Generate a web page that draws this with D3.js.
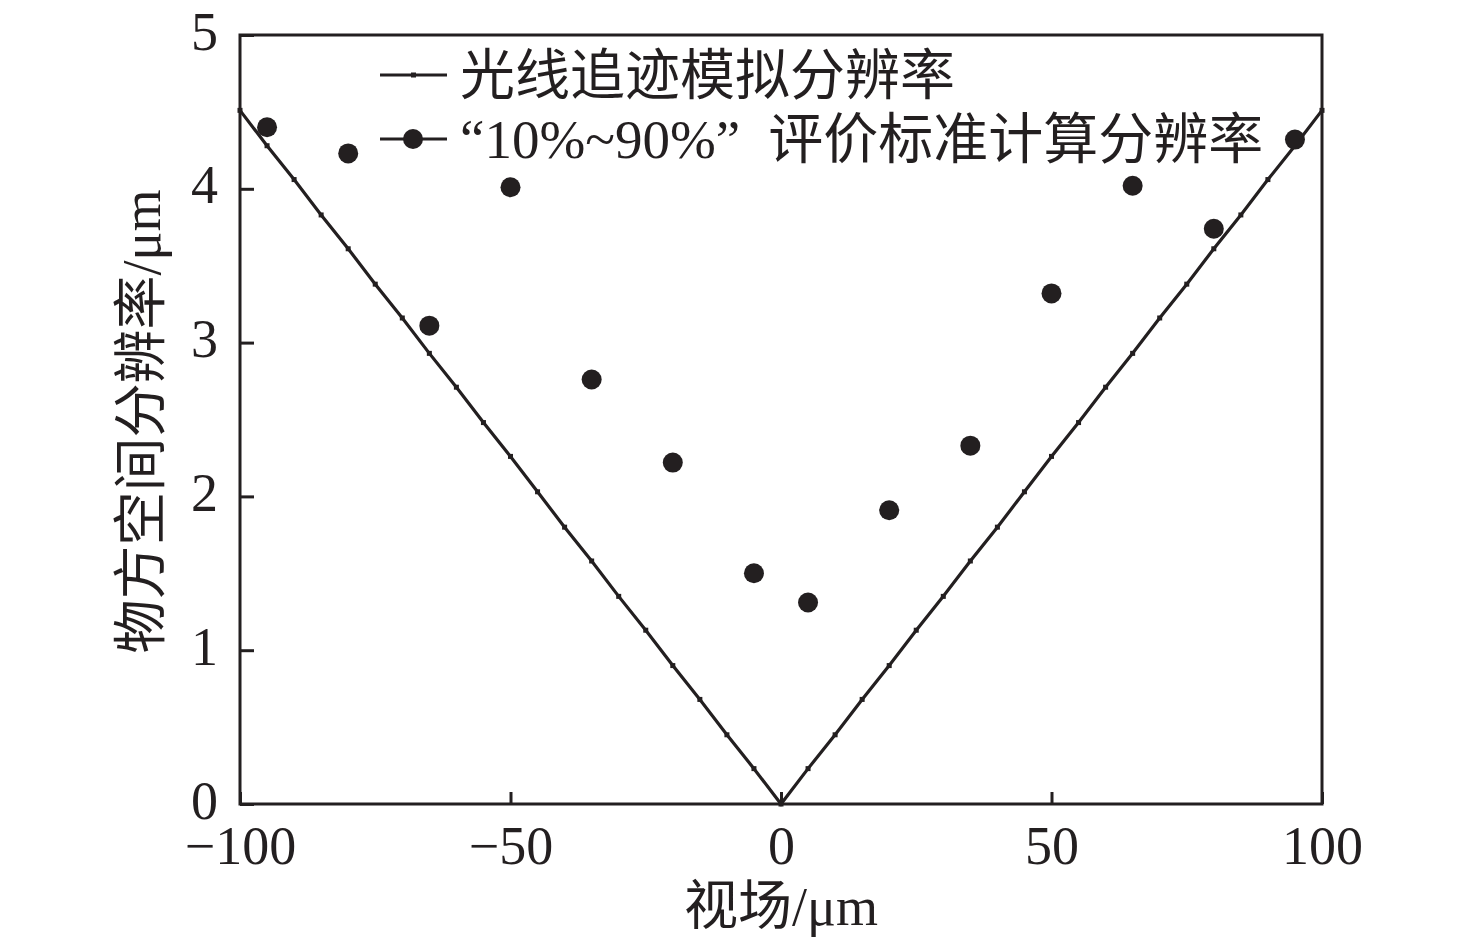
<!DOCTYPE html>
<html>
<head>
<meta charset="utf-8">
<script src="https://cdn.jsdelivr.net/npm/d3@7"></script>
<style>
  body { margin: 0; background: #fff; }
  text { fill: #231f20; }
</style>
</head>
<body>
<div id="chart"></div>
<script>
// ray tracing curve, every 5 um
var rayX = [-100, -95, -90, -85, -80, -75, -70, -65, -60, -55, -50, -45, -40, -35, -30, -25, -20, -15, -10, -5,
            0, 5, 10, 15, 20, 25, 30, 35, 40, 45, 50, 55, 60, 65, 70, 75, 80, 85, 90, 95, 100];
var rayY = [4.51, 4.28, 4.06, 3.83, 3.61, 3.38, 3.16, 2.93, 2.71, 2.48, 2.26, 2.03, 1.80, 1.58, 1.35, 1.13, 0.90, 0.68, 0.45, 0.23,
            0, 0.23, 0.45, 0.68, 0.90, 1.13, 1.35, 1.58, 1.80, 2.03, 2.26, 2.48, 2.71, 2.93, 3.16, 3.38, 3.61, 3.83, 4.06, 4.28, 4.51];

// "10%~90%" criterion points
var ptX = [-95, -80, -65, -50, -35, -20, -5, 5, 20, 35, 50, 65, 80, 95];
var ptY = [4.40, 4.23, 3.11, 4.01, 2.76, 2.22, 1.50, 1.31, 1.91, 2.33, 3.32, 4.02, 3.74, 4.32];

var xTicks = [-100, -50, 0, 50, 100];
var yTicks = [0, 1, 2, 3, 4, 5];
var legendNames = ["光线追迹模拟分辨率", "“10%~90%”评价标准计算分辨率"];
var xTitle = "视场/μm";
var yTitle = "物方空间分辨率/μm";

var w = 1476;
var h = 949;
var margin = {left: 240, right: 154, top: 35, bottom: 145};
var ink = "#231f20";
var numFont = "'Liberation Serif', 'Times New Roman', serif";
var cjkFont = "'Liberation Serif', 'Noto Sans CJK SC', serif";

var svg = d3.select("#chart").append("svg")
  .attr("width", w)
  .attr("height", h);

var xScale = d3.scaleLinear()
  .domain([-100, 100])
  .range([margin.left, w - margin.right]);

var yScale = d3.scaleLinear()
  .domain([0, 5])
  .range([h - margin.bottom, margin.top]);

// frame
svg.append("rect")
  .attr("x", xScale(-100))
  .attr("y", yScale(5))
  .attr("width", xScale(100) - xScale(-100))
  .attr("height", yScale(0) - yScale(5))
  .attr("fill", "none")
  .attr("stroke", ink)
  .attr("stroke-width", 3);

// axes, ticks pointing inward
var xAxis = svg.append("g")
  .attr("transform", "translate(0," + yScale(0) + ")")
  .call(d3.axisBottom(xScale).tickValues(xTicks).tickSizeInner(-12).tickSizeOuter(0)
    .tickFormat(function(d) { return d < 0 ? "\u2212" + Math.abs(d) : d; }));
xAxis.select(".domain").remove();
xAxis.selectAll("line").attr("stroke", ink).attr("stroke-width", 3);
xAxis.selectAll("text")
  .attr("y", 60)
  .attr("dy", 0)
  .style("font-family", numFont)
  .style("font-size", "54px");

var yAxis = svg.append("g")
  .attr("transform", "translate(" + xScale(-100) + ",0)")
  .call(d3.axisLeft(yScale).tickValues(yTicks).tickSizeInner(-14).tickSizeOuter(0)
    .tickFormat(d3.format("d")));
yAxis.select(".domain").remove();
yAxis.selectAll("line").attr("stroke", ink).attr("stroke-width", 3);
yAxis.selectAll("text")
  .attr("x", -22)
  .attr("dy", "0.26em")
  .style("font-family", numFont)
  .style("font-size", "54px");

// ray tracing line
var rayData = rayX.map(function(x, i) { return {x: x, y: rayY[i]}; });
var line = d3.line()
  .x(function(d) { return xScale(d.x); })
  .y(function(d) { return yScale(d.y); });

svg.append("path")
  .datum(rayData)
  .attr("d", line)
  .attr("fill", "none")
  .attr("stroke", ink)
  .attr("stroke-width", 3.2);

svg.selectAll(".raymark")
  .data(rayData)
  .enter()
  .append("rect")
  .attr("class", "raymark")
  .attr("x", function(d) { return xScale(d.x) - 2.5; })
  .attr("y", function(d) { return yScale(d.y) - 2.5; })
  .attr("width", 5)
  .attr("height", 5)
  .attr("fill", ink);

// points
svg.selectAll(".pt")
  .data(ptX.map(function(x, i) { return {x: x, y: ptY[i]}; }))
  .enter()
  .append("circle")
  .attr("class", "pt")
  .attr("cx", function(d) { return xScale(d.x); })
  .attr("cy", function(d) { return yScale(d.y); })
  .attr("r", 10)
  .attr("fill", ink);

// legend
var lg = svg.append("g").attr("transform", "translate(380,75)");
lg.append("line").attr("x1", 0).attr("x2", 67).attr("y1", 0).attr("y2", 0)
  .attr("stroke", ink).attr("stroke-width", 3);
lg.append("rect").attr("x", 31).attr("y", -2.5).attr("width", 5).attr("height", 5).attr("fill", ink);
lg.append("line").attr("x1", 0).attr("x2", 67).attr("y1", 64).attr("y2", 64)
  .attr("stroke", ink).attr("stroke-width", 3);
lg.append("circle").attr("cx", 33).attr("cy", 64).attr("r", 10).attr("fill", ink);

lg.append("text")
  .attr("x", 80)
  .attr("y", 19)
  .style("font-family", cjkFont)
  .style("font-size", "55px")
  .text(legendNames[0]);

// second entry: wide quotes, serif digits
var t2 = lg.append("text")
  .attr("x", 80)
  .attr("y", 83)
  .style("font-size", "55px");
var s2 = legendNames[1];
var qEnd = s2.indexOf("”");
t2.append("tspan").style("font-family", numFont).text(s2.slice(0, qEnd + 1));
t2.append("tspan").attr("dx", 28).style("font-family", cjkFont).text(s2.slice(qEnd + 1));

// axis titles
svg.append("text")
  .attr("x", xScale(0))
  .attr("y", 925)
  .attr("text-anchor", "middle")
  .style("font-family", cjkFont)
  .style("font-size", "54px")
  .text(xTitle);

svg.append("text")
  .attr("transform", "translate(160," + (yScale(2.5) + 2) + ") rotate(-90)")
  .attr("text-anchor", "middle")
  .style("font-family", cjkFont)
  .style("font-size", "54px")
  .text(yTitle);
</script>
</body>
</html>
